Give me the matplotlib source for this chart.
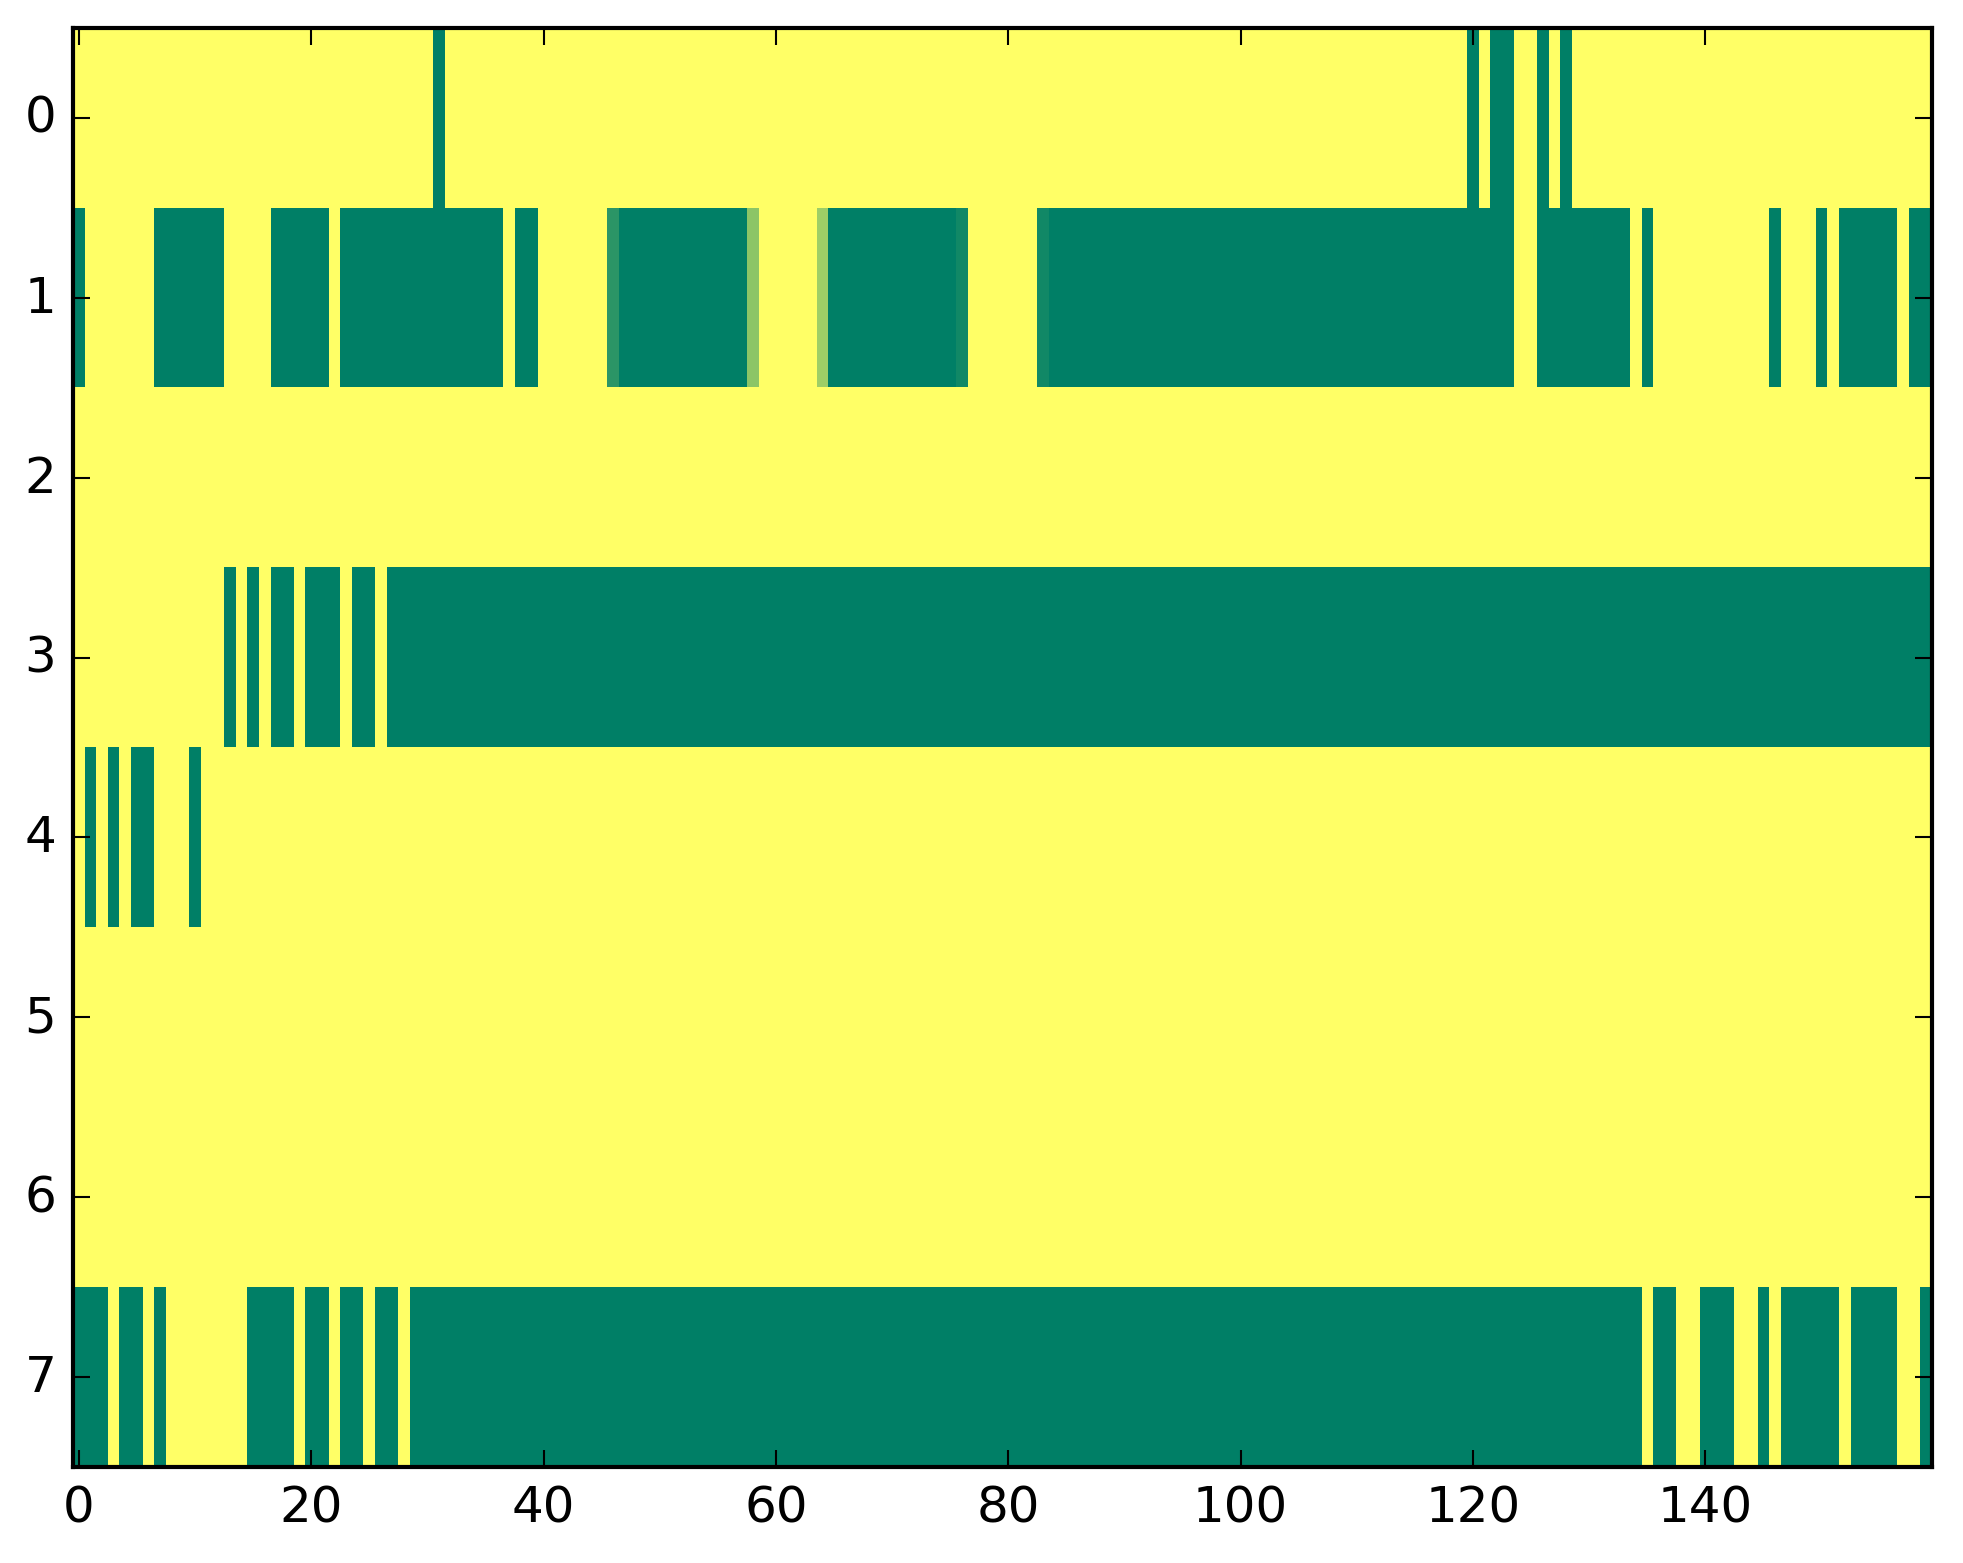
import numpy as np
import matplotlib
matplotlib.use("Agg")
from matplotlib import pyplot as plt

n_cols = 160
n_rows = 8

# columns (inclusive ranges) that are 0 in each row; everything else is 1
row0_zero = [(31, 31), (120, 120), (122, 123), (126, 126), (128, 128)]
row1_zero = [(0, 0), (7, 12), (17, 21), (23, 36), (38, 39), (47, 57), (65, 75),
             (84, 123), (126, 133), (135, 135), (146, 146), (150, 150),
             (152, 156), (158, 159)]
row1_partial = {46: 0.17, 58: 0.55, 64: 0.62, 76: 0.07, 83: 0.07}
row2_zero = []
row3_zero = [(13, 13), (15, 15), (17, 18), (20, 22), (24, 25), (27, 159)]
row4_zero = [(1, 1), (3, 3), (5, 6), (10, 10)]
row5_zero = []
row6_zero = []
row7_zero = [(0, 2), (4, 5), (7, 7), (15, 18), (20, 21), (23, 24), (26, 27),
             (29, 134), (136, 137), (140, 142), (145, 145), (147, 151),
             (153, 156), (159, 159)]

rows_zero = [row0_zero, row1_zero, row2_zero, row3_zero,
             row4_zero, row5_zero, row6_zero, row7_zero]

data = np.ones((n_rows, n_cols))
for r, ranges in enumerate(rows_zero):
    for a, b in ranges:
        data[r, a:b + 1] = 0.0
for c, v in row1_partial.items():
    data[1, c] = v

plt.style.use('classic')
W, H = 1963, 1564
fig = plt.figure(figsize=(W / 300.0, H / 300.0), dpi=300)
ax = fig.add_axes([73.0 / W, 96.0 / H, 1859.0 / W, 1439.0 / H])
ax.imshow(data, cmap='summer', vmin=0, vmax=1, interpolation='nearest', aspect='auto')
ax.set_xticks(np.arange(0, 141, 20))
ax.set_yticks(np.arange(0, 8))
fig.savefig("out.png", dpi=300)
